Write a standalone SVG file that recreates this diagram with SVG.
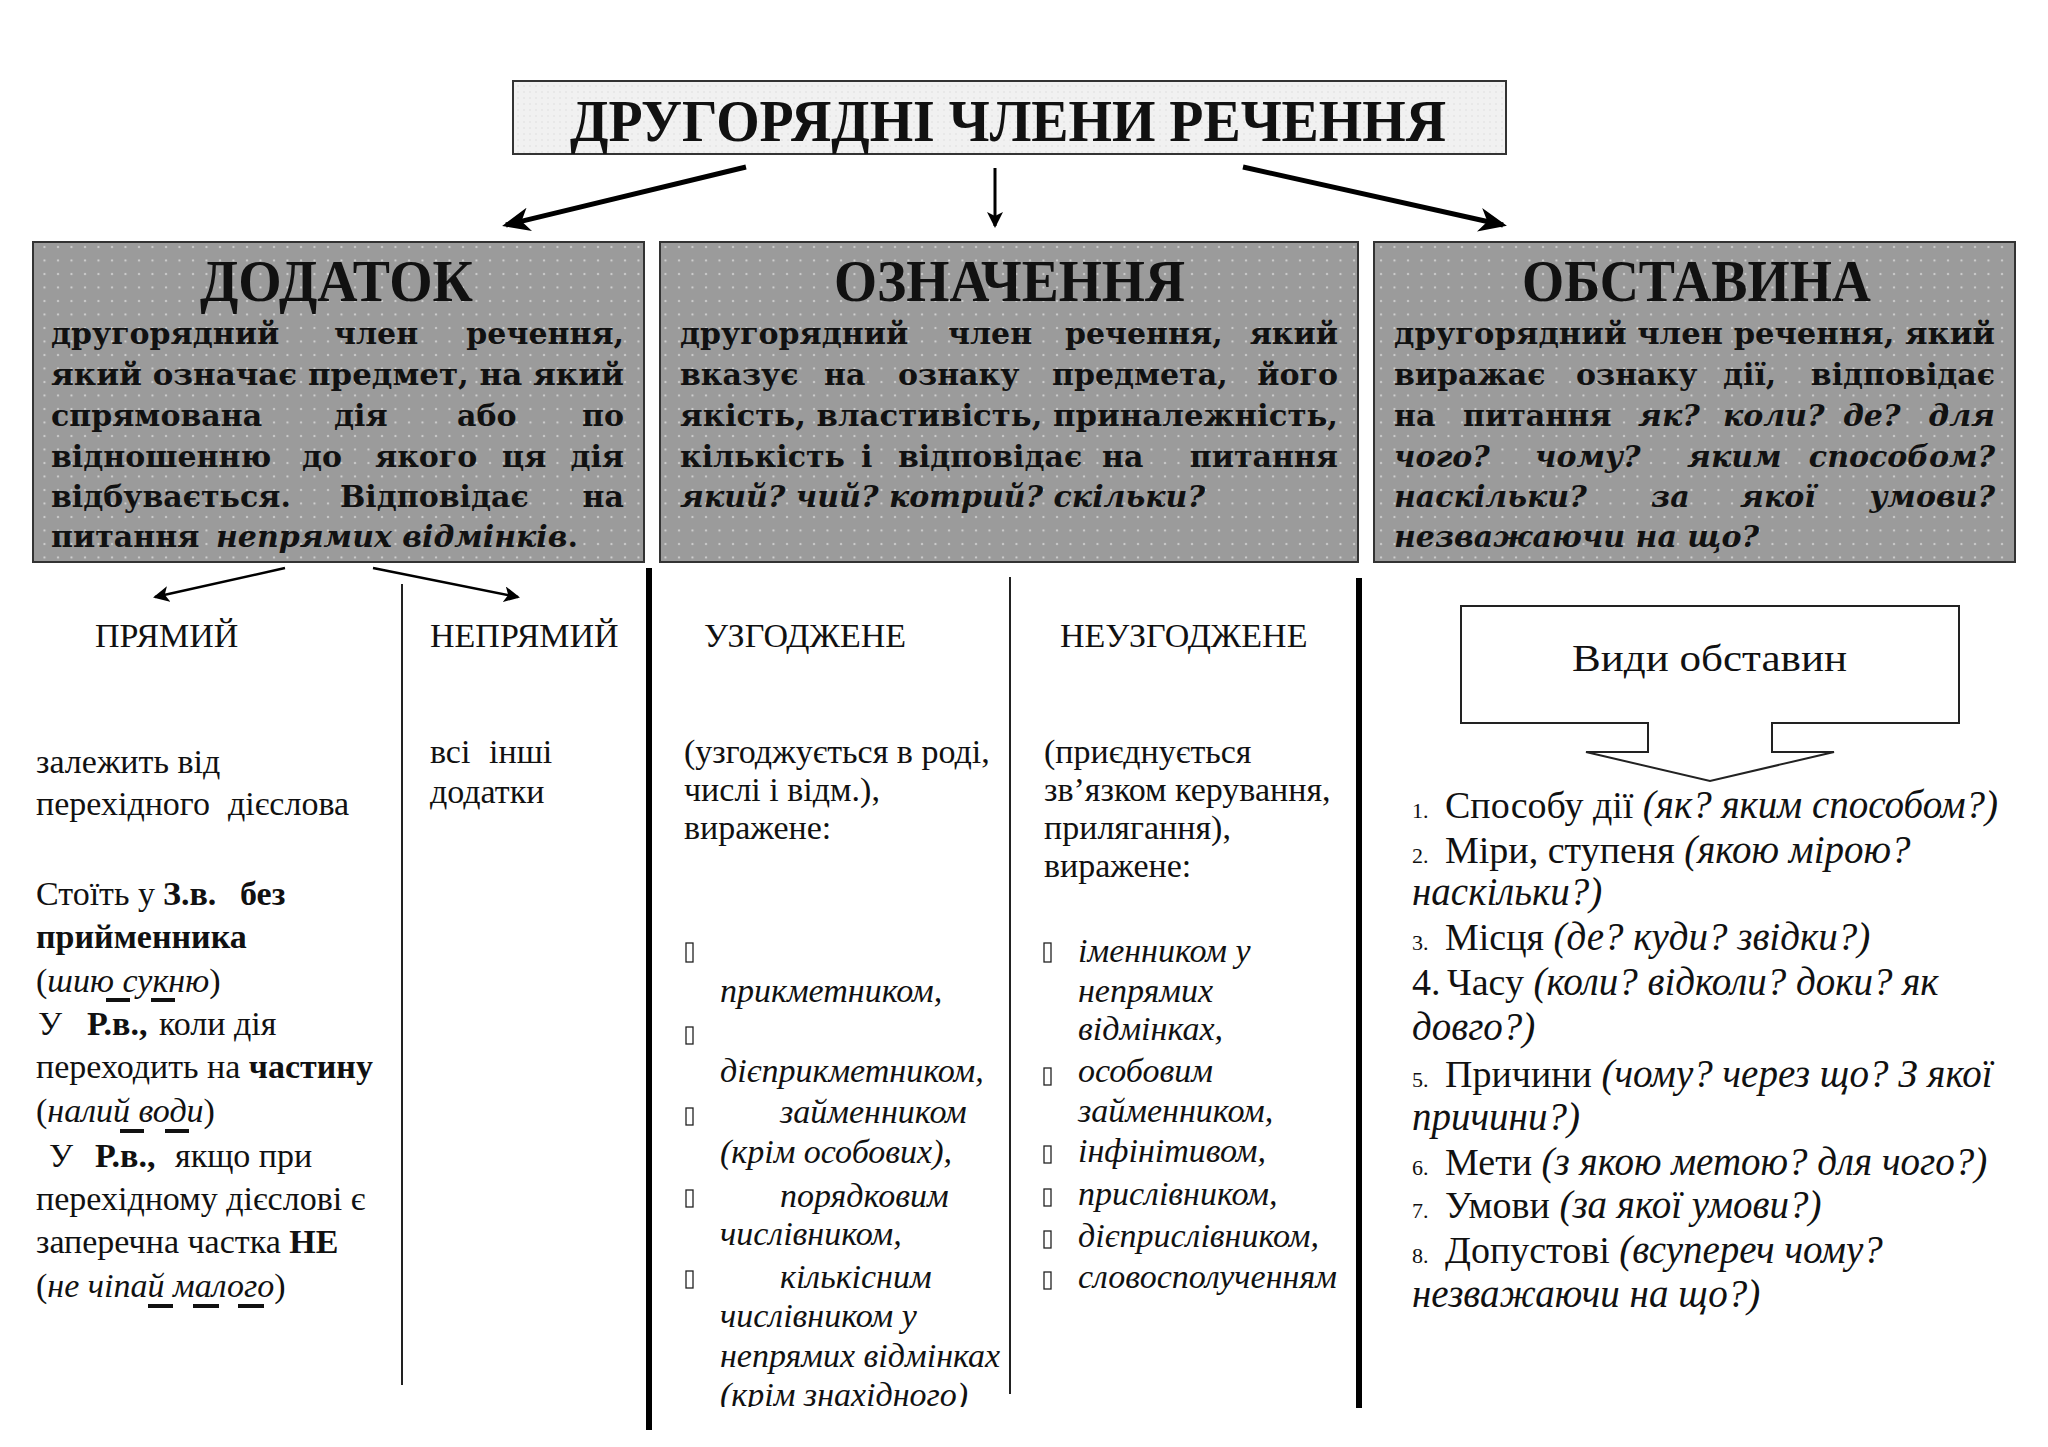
<svg xmlns="http://www.w3.org/2000/svg" width="2048" height="1447" viewBox="0 0 2048 1447">
<style>
.tb{font-family:"Liberation Serif","Times New Roman",serif;font-weight:bold;fill:#111}
.bd{font-family:"DejaVu Serif",serif;font-weight:bold;font-size:30px;fill:#111}
.bi{font-style:italic}
.e{text-anchor:end}
.r{font-family:"Liberation Serif","Times New Roman",serif;font-size:34px;fill:#111}
.h{font-family:"Liberation Serif","Times New Roman",serif;font-size:34px;fill:#111}
.i{font-family:"Liberation Serif","Times New Roman",serif;font-style:italic;font-size:34px;fill:#111}
.l{font-family:"Liberation Serif","Times New Roman",serif;font-size:38px;fill:#111}
.n{font-size:22px}
.it{font-style:italic;font-size:39px}
.r .it{font-size:34px}
.b{font-weight:bold}
.thin{stroke:#222;stroke-width:2;fill:none}
.thick{stroke:#000;stroke-width:6;fill:none}
.box{stroke:#333;stroke-width:2}
.tofu{fill:none;stroke:#222;stroke-width:1.3}
.ul{fill:#111}
</style>
<defs>
<pattern id="dots" width="13.5" height="13.5" patternUnits="userSpaceOnUse">
<rect width="13.5" height="13.5" fill="#9b9b9b"/>
<circle cx="4" cy="4" r="1.1" fill="#d4d4d4"/>
</pattern>
<pattern id="light" width="6" height="6" patternUnits="userSpaceOnUse">
<rect width="6" height="6" fill="#f1f1f1"/>
<circle cx="2" cy="2" r="0.8" fill="#dddddd"/>
</pattern>
<marker id="stealth" viewBox="0 0 28 24" refX="24" refY="12" markerWidth="28" markerHeight="24" markerUnits="userSpaceOnUse" orient="auto">
<path d="M0,0 L28,12 L0,24 L8,12 Z" fill="#000"/>
</marker>
<marker id="tri" viewBox="0 0 16 16" refX="14" refY="8" markerWidth="16" markerHeight="16" markerUnits="userSpaceOnUse" orient="auto">
<path d="M0,0 L16,8 L0,16 L4,8 Z" fill="#000"/>
</marker>
<clipPath id="colclip"><rect x="650" y="560" width="360" height="847"/></clipPath>
</defs>
<rect width="2048" height="1447" fill="#fff"/>

<g id="title">
<rect x="513" y="81" width="993" height="73" fill="url(#light)" class="box"/>
<text class="tb" x="570" y="141" font-size="60" textLength="876" lengthAdjust="spacingAndGlyphs">ДРУГОРЯДНІ ЧЛЕНИ РЕЧЕННЯ</text>
</g>

<g id="connectors">
<line x1="746" y1="167" x2="506" y2="225" stroke="#000" stroke-width="5" marker-end="url(#stealth)"/>
<line x1="995" y1="168" x2="995" y2="226" stroke="#000" stroke-width="3" marker-end="url(#tri)"/>
<line x1="1243" y1="167" x2="1503" y2="225" stroke="#000" stroke-width="5" marker-end="url(#stealth)"/>
<line x1="285" y1="568" x2="155" y2="597" stroke="#000" stroke-width="2.5" marker-end="url(#tri)"/>
<line x1="373" y1="568" x2="518" y2="597" stroke="#000" stroke-width="2.5" marker-end="url(#tri)"/>
</g>

<g id="dodatok">
<rect x="33" y="242" width="611" height="320" fill="url(#dots)" class="box"/>
<text class="tb" x="200" y="301" font-size="60" textLength="273" lengthAdjust="spacingAndGlyphs">ДОДАТОК</text>
<text class="bd" y="344"><tspan x="51">другорядний</tspan><tspan x="334">член</tspan></text>
<text class="bd e" x="624" y="344">речення,</text>
<text class="bd" x="51" y="385" textLength="573" lengthAdjust="spacingAndGlyphs">який означає предмет, на який</text>
<text class="bd" y="426"><tspan x="51">спрямована</tspan><tspan x="334">дія</tspan><tspan x="457">або</tspan></text>
<text class="bd e" x="624" y="426">по</text>
<text class="bd" y="467"><tspan x="51">відношенню</tspan><tspan x="302">до</tspan><tspan x="375">якого</tspan><tspan x="502">ця</tspan></text>
<text class="bd e" x="624" y="467">дія</text>
<text class="bd" y="507"><tspan x="51">відбувається.</tspan><tspan x="340">Відповідає</tspan></text>
<text class="bd e" x="624" y="507">на</text>
<text class="bd" y="547"><tspan x="51">питання</tspan><tspan x="216" class="bi">непрямих відмінків</tspan><tspan>.</tspan></text>
</g>

<g id="oznachennia">
<rect x="660" y="242" width="698" height="320" fill="url(#dots)" class="box"/>
<text class="tb" x="834" y="301" font-size="60" textLength="351" lengthAdjust="spacingAndGlyphs">ОЗНАЧЕННЯ</text>
<text class="bd" y="344"><tspan x="680">другорядний</tspan><tspan x="948">член</tspan><tspan x="1065">речення,</tspan></text>
<text class="bd e" x="1338" y="344">який</text>
<text class="bd" y="385"><tspan x="680">вказує</tspan><tspan x="824">на</tspan><tspan x="898">ознаку</tspan><tspan x="1052">предмета,</tspan></text>
<text class="bd e" x="1338" y="385">його</text>
<text class="bd" x="680" y="426" textLength="658" lengthAdjust="spacingAndGlyphs">якість, властивість, приналежність,</text>
<text class="bd" y="467"><tspan x="680">кількість</tspan><tspan x="861">і</tspan><tspan x="898">відповідає</tspan><tspan x="1102">на</tspan></text>
<text class="bd e" x="1338" y="467">питання</text>
<text class="bd bi" x="680" y="507">який? чий? котрий? скільки?</text>
</g>

<g id="obstavyna">
<rect x="1374" y="242" width="641" height="320" fill="url(#dots)" class="box"/>
<text class="tb" x="1522" y="301" font-size="60" textLength="349" lengthAdjust="spacingAndGlyphs">ОБСТАВИНА</text>
<text class="bd" x="1394" y="344" textLength="601" lengthAdjust="spacingAndGlyphs">другорядний член речення, який</text>
<text class="bd" y="385"><tspan x="1394">виражає</tspan><tspan x="1576">ознаку</tspan><tspan x="1723">дії,</tspan></text>
<text class="bd e" x="1995" y="385">відповідає</text>
<text class="bd" y="426"><tspan x="1394">на</tspan><tspan x="1463">питання</tspan><tspan x="1638" class="bi">як?</tspan><tspan x="1723" class="bi">коли?</tspan><tspan x="1843" class="bi">де?</tspan></text>
<text class="bd bi e" x="1995" y="426">для</text>
<text class="bd bi" y="467"><tspan x="1394">чого?</tspan><tspan x="1535">чому?</tspan><tspan x="1687">яким</tspan></text>
<text class="bd bi e" x="1995" y="467">способом?</text>
<text class="bd bi" y="507"><tspan x="1394">наскільки?</tspan><tspan x="1651">за</tspan><tspan x="1740">якої</tspan></text>
<text class="bd bi e" x="1995" y="507">умови?</text>
<text class="bd bi" x="1394" y="547">незважаючи на що?</text>
</g>

<g id="dividers">
<line x1="402" y1="584" x2="402" y2="1385" class="thin"/>
<line x1="649" y1="568" x2="649" y2="1430" class="thick"/>
<line x1="1010" y1="577" x2="1010" y2="1394" class="thin"/>
<line x1="1359" y1="578" x2="1359" y2="1408" class="thick"/>
</g>

<g id="priamyi">
<text class="h" x="95" y="647">ПРЯМИЙ</text>
<text class="r" x="36" y="773">залежить від</text>
<text class="r" y="815"><tspan x="36">перехідного</tspan><tspan x="228">дієслова</tspan></text>
<text class="r" y="905"><tspan x="36">Стоїть у </tspan><tspan x="163" class="b">З.в.</tspan><tspan x="240" class="b">без</tspan></text>
<text class="r b" x="36" y="948">прийменника</text>
<text class="r" x="36" y="992">(<tspan class="it">шию сукню</tspan>)</text>
<rect class="ul" x="106" y="998" width="24" height="4"/>
<rect class="ul" x="151" y="998" width="24" height="4"/>
<text class="r" y="1035"><tspan x="38">У</tspan><tspan x="87" class="b">Р.в.,</tspan><tspan x="159">коли дія</tspan></text>
<text class="r" x="36" y="1078">переходить на <tspan class="b">частину</tspan></text>
<text class="r" x="36" y="1122">(<tspan class="it">налий води</tspan>)</text>
<rect class="ul" x="120" y="1129" width="24" height="4"/>
<rect class="ul" x="165" y="1129" width="24" height="4"/>
<text class="r" y="1167"><tspan x="49">У</tspan><tspan x="95" class="b">Р.в.,</tspan><tspan x="175">якщо при</tspan></text>
<text class="r" x="36" y="1210">перехідному дієслові є</text>
<text class="r" x="36" y="1253">заперечна частка <tspan class="b">НЕ</tspan></text>
<text class="r" x="36" y="1297">(<tspan class="it">не чіпай малого</tspan>)</text>
<rect class="ul" x="148" y="1304" width="25" height="4"/>
<rect class="ul" x="193" y="1304" width="26" height="4"/>
<rect class="ul" x="238" y="1304" width="26" height="4"/>
</g>

<g id="nepriamyi">
<text class="h" x="430" y="647">НЕПРЯМИЙ</text>
<text class="r" y="763"><tspan x="430">всі</tspan><tspan x="489">інші</tspan></text>
<text class="r" x="430" y="803">додатки</text>
</g>

<g id="uzgodzhene">
<text class="h" x="704" y="647">УЗГОДЖЕНЕ</text>
<text class="r" x="684" y="763">(узгоджується в роді,</text>
<text class="r" x="684" y="801">числі і відм.),</text>
<text class="r" x="684" y="839">виражене:</text>
<g clip-path="url(#colclip)">
<rect class="tofu" x="686" y="943" width="7" height="19"/>
<text class="i" x="720" y="1002">прикметником,</text>
<rect class="tofu" x="686" y="1027" width="7" height="17"/>
<text class="i" x="720" y="1082">дієприкметником,</text>
<rect class="tofu" x="686" y="1108" width="7" height="17"/>
<text class="i" x="780" y="1123">займенником</text>
<text class="i" x="720" y="1163">(крім особових),</text>
<rect class="tofu" x="686" y="1190" width="7" height="17"/>
<text class="i" x="780" y="1207">порядковим</text>
<text class="i" x="720" y="1245">числівником,</text>
<rect class="tofu" x="686" y="1271" width="7" height="17"/>
<text class="i" x="780" y="1288">кількісним</text>
<text class="i" x="720" y="1327">числівником у</text>
<text class="i" x="720" y="1367">непрямих відмінках</text>
<text class="i" x="720" y="1406">(крім знахідного)</text>
</g>
</g>

<g id="neuzgodzhene">
<text class="h" x="1060" y="647">НЕУЗГОДЖЕНЕ</text>
<text class="r" x="1044" y="763">(приєднується</text>
<text class="r" x="1044" y="801">зв’язком керування,</text>
<text class="r" x="1044" y="839">прилягання),</text>
<text class="r" x="1044" y="877">виражене:</text>
<rect class="tofu" x="1044" y="943" width="7" height="19"/>
<text class="i" x="1078" y="962">іменником у</text>
<text class="i" x="1078" y="1002">непрямих</text>
<text class="i" x="1078" y="1040">відмінках,</text>
<rect class="tofu" x="1044" y="1068" width="7" height="17"/>
<text class="i" x="1078" y="1082">особовим</text>
<text class="i" x="1078" y="1122">займенником,</text>
<rect class="tofu" x="1044" y="1146" width="7" height="17"/>
<text class="i" x="1078" y="1162">інфінітивом,</text>
<rect class="tofu" x="1044" y="1189" width="7" height="17"/>
<text class="i" x="1078" y="1205">прислівником,</text>
<rect class="tofu" x="1044" y="1231" width="7" height="17"/>
<text class="i" x="1078" y="1247">дієприслівником,</text>
<rect class="tofu" x="1044" y="1272" width="7" height="17"/>
<text class="i" x="1078" y="1288">словосполученням</text>
</g>

<g id="vydy">
<path d="M1461,606 H1959 V723 H1772 V752 H1834 L1710,781 L1586,752 H1648 V723 H1461 Z" fill="#fff" stroke="#222" stroke-width="2"/>
<text class="l" x="1572" y="671" font-size="43" textLength="275" lengthAdjust="spacingAndGlyphs">Види обставин</text>
</g>

<g id="vydy-list">
<text class="l" y="818"><tspan x="1412" class="n">1.</tspan><tspan x="1445">Способу дії </tspan><tspan class="it">(як? яким способом?)</tspan></text>
<text class="l" y="863"><tspan x="1412" class="n">2.</tspan><tspan x="1445">Міри, ступеня </tspan><tspan class="it">(якою мірою?</tspan></text>
<text class="l it" x="1412" y="905">наскільки?)</text>
<text class="l" y="950"><tspan x="1412" class="n">3.</tspan><tspan x="1445">Місця </tspan><tspan class="it">(де? куди? звідки?)</tspan></text>
<text class="l" y="995"><tspan x="1412">4.</tspan><tspan x="1447">Часу </tspan><tspan class="it">(коли? відколи? доки? як</tspan></text>
<text class="l it" x="1412" y="1040">довго?)</text>
<text class="l" y="1087"><tspan x="1412" class="n">5.</tspan><tspan x="1445">Причини </tspan><tspan class="it">(чому? через що? З якої</tspan></text>
<text class="l it" x="1412" y="1130">причини?)</text>
<text class="l" y="1175"><tspan x="1412" class="n">6.</tspan><tspan x="1445">Мети </tspan><tspan class="it">(з якою метою? для чого?)</tspan></text>
<text class="l" y="1218"><tspan x="1412" class="n">7.</tspan><tspan x="1445">Умови </tspan><tspan class="it">(за якої умови?)</tspan></text>
<text class="l" y="1263"><tspan x="1412" class="n">8.</tspan><tspan x="1445">Допустові </tspan><tspan class="it">(всупереч чому?</tspan></text>
<text class="l it" x="1412" y="1307">незважаючи на що?)</text>
</g>
</svg>
